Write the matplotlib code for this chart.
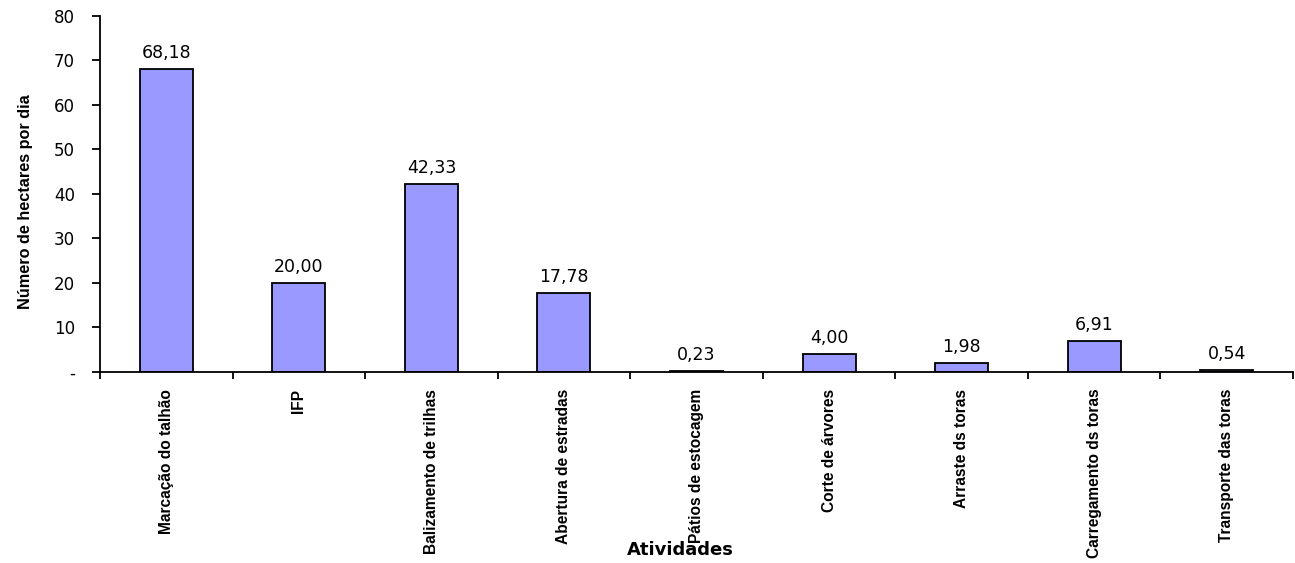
import matplotlib.pyplot as plt
import numpy as np

plt.rcParams['font.family'] = ['DejaVu Sans']
ARIAL = ['Liberation Sans', 'DejaVu Sans']

atividades = [
    'Marcação do talhão', 'IFP', 'Balizamento de trilhas',
    'Abertura de estradas', 'Pátios de estocagem', 'Corte de árvores',
    'Arraste ds toras', 'Carregamento ds toras', 'Transporte das toras',
]
hectares = [68.18, 20.00, 42.33, 17.78, 0.23, 4.00, 1.98, 6.91, 0.54]
y_ticks = [0, 10, 20, 30, 40, 50, 60, 70, 80]
y_tick_labels = ['-', '10', '20', '30', '40', '50', '60', '70', '80']


def main() -> None:
    fig = plt.figure(figsize=(12.95, 5.63), dpi=100)
    ax = fig.add_axes([0.0772, 0.3393, 0.9213, 0.6323])

    x = np.arange(len(atividades))
    bars = ax.bar(x, hectares, width=0.4, color='#9999FF',
                  edgecolor='black', linewidth=1.3)

    # value labels with comma decimal separator
    for bar, val in zip(bars, hectares):
        ax.annotate(f'{val:.2f}'.replace('.', ','),
                    (bar.get_x() + bar.get_width() / 2, val),
                    xytext=(0, 5), textcoords='offset points',
                    ha='center', va='bottom', fontsize=12.5)

    ax.set_xlim(-0.5, len(atividades) - 0.5)
    ax.set_ylim(0, 80)
    ax.set_yticks(y_ticks, y_tick_labels, fontsize=12)

    # category labels between boundary ticks, like a spreadsheet chart
    ax.set_xticks(np.arange(len(atividades) + 1) - 0.5)
    ax.set_xticklabels([])
    ax.set_xticks(x, minor=True)
    ax.set_xticklabels(atividades, minor=True, rotation=90,
                       fontsize=11.2, fontweight='bold', va='top',
                       ha='center', family=ARIAL)
    ax.tick_params(axis='x', which='minor', length=0, pad=12)
    ax.tick_params(axis='x', which='major', length=5, width=1.3)
    ax.tick_params(axis='y', length=6, width=1.3, pad=12)

    for side in ['top', 'right']:
        ax.spines[side].set_visible(False)
    for side in ['left', 'bottom']:
        ax.spines[side].set_linewidth(1.3)

    ax.set_ylabel('Número de hectares por dia', fontsize=11.7,
                  fontweight='bold', family=ARIAL)
    ax.yaxis.set_label_coords(-0.0562, 0.4775)
    fig.text(680 / 1295, 1 - 550 / 563, 'Atividades', ha='center',
             va='center', fontsize=13, fontweight='bold')

    fig.savefig('out.png', dpi=100)


if __name__ == "__main__":
    main()
